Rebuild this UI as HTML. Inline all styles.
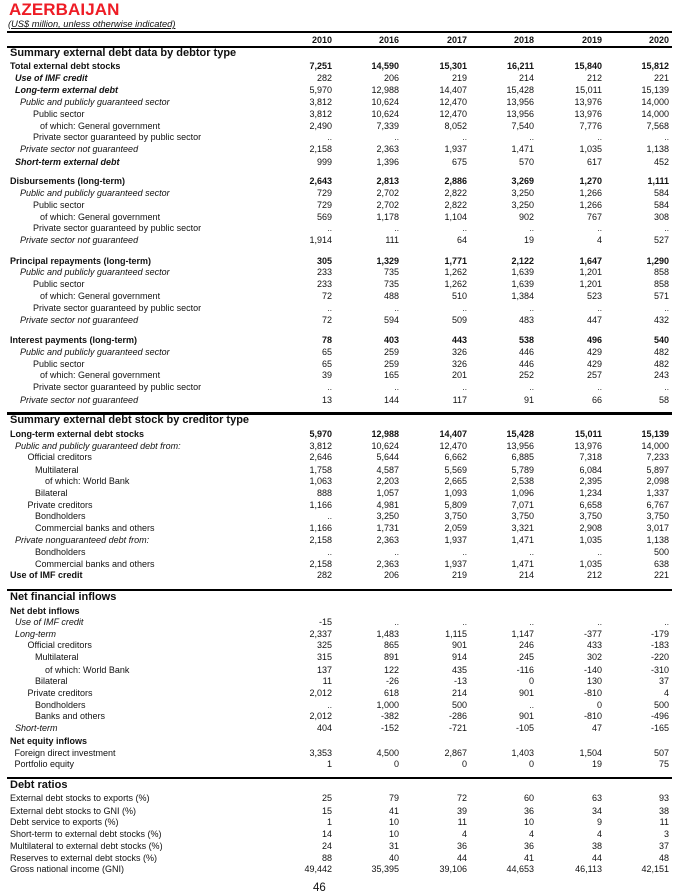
<!DOCTYPE html>
<html><head><meta charset="utf-8">
<style>
html,body{margin:0;padding:0;background:#fff;}
body{width:683px;height:891px;position:relative;overflow:hidden;font-family:"Liberation Sans",Arial,sans-serif;color:#111;}
.r{position:absolute;left:0;width:683px;height:11px;line-height:11px;font-size:9px;}
.r span{position:absolute;top:0;white-space:nowrap;}
.h{position:absolute;left:10px;font-size:11px;line-height:13px;font-weight:bold;white-space:nowrap;}
.c1{right:351px}.c2{right:284px}.c3{right:216px}.c4{right:149px}.c5{right:81px}.c6{right:14px}
.b{font-weight:bold}.i{font-style:italic}
.r span.d{font-size:8px;color:#000;}
.ln{position:absolute;left:7px;width:665px;background:#000;}
</style></head><body>
<div style="position:absolute;left:9px;top:0px;font-size:17px;line-height:20px;font-weight:bold;color:#ee1c25;letter-spacing:0.1px;">AZERBAIJAN</div>
<div style="position:absolute;left:8px;top:19px;font-size:9.3px;line-height:11px;font-style:italic;text-decoration:underline;">(US$ million, unless otherwise indicated)</div>
<div class="ln" style="top:31px;height:2px"></div>
<div class="r b" style="top:34.6px"><span class="c1">2010</span><span class="c2">2016</span><span class="c3">2017</span><span class="c4">2018</span><span class="c5">2019</span><span class="c6">2020</span></div>
<div class="ln" style="top:46px;height:2px"></div>
<div class="h" style="top:46.9px">Summary external debt data by debtor type</div>

<div class="r b" style="top:61.1px"><span style="left:10px">Total external debt stocks</span><span class="c1">7,251</span><span class="c2">14,590</span><span class="c3">15,301</span><span class="c4">16,211</span><span class="c5">15,840</span><span class="c6">15,812</span></div>
<div class="r" style="top:73.1px"><span class="b i" style="left:15px">Use of IMF credit</span><span class="c1">282</span><span class="c2">206</span><span class="c3">219</span><span class="c4">214</span><span class="c5">212</span><span class="c6">221</span></div>
<div class="r" style="top:85.1px"><span class="b i" style="left:15px">Long-term external debt</span><span class="c1">5,970</span><span class="c2">12,988</span><span class="c3">14,407</span><span class="c4">15,428</span><span class="c5">15,011</span><span class="c6">15,139</span></div>
<div class="r" style="top:97.1px"><span class="i" style="left:20px">Public and publicly guaranteed sector</span><span class="c1">3,812</span><span class="c2">10,624</span><span class="c3">12,470</span><span class="c4">13,956</span><span class="c5">13,976</span><span class="c6">14,000</span></div>
<div class="r" style="top:108.8px"><span style="left:33px">Public sector</span><span class="c1">3,812</span><span class="c2">10,624</span><span class="c3">12,470</span><span class="c4">13,956</span><span class="c5">13,976</span><span class="c6">14,000</span></div>
<div class="r" style="top:120.6px"><span style="left:40px">of which: General government</span><span class="c1">2,490</span><span class="c2">7,339</span><span class="c3">8,052</span><span class="c4">7,540</span><span class="c5">7,776</span><span class="c6">7,568</span></div>
<div class="r" style="top:132.3px"><span style="left:33px">Private sector guaranteed by public sector</span><span class="c1 d">..</span><span class="c2 d">..</span><span class="c3 d">..</span><span class="c4 d">..</span><span class="c5 d">..</span><span class="c6 d">..</span></div>
<div class="r" style="top:144.3px"><span class="i" style="left:20px">Private sector not guaranteed</span><span class="c1">2,158</span><span class="c2">2,363</span><span class="c3">1,937</span><span class="c4">1,471</span><span class="c5">1,035</span><span class="c6">1,138</span></div>
<div class="r" style="top:156.6px"><span class="b i" style="left:15px">Short-term external debt</span><span class="c1">999</span><span class="c2">1,396</span><span class="c3">675</span><span class="c4">570</span><span class="c5">617</span><span class="c6">452</span></div>

<div class="r b" style="top:176.1px"><span style="left:10px">Disbursements (long-term)</span><span class="c1">2,643</span><span class="c2">2,813</span><span class="c3">2,886</span><span class="c4">3,269</span><span class="c5">1,270</span><span class="c6">1,111</span></div>
<div class="r" style="top:188.1px"><span class="i" style="left:20px">Public and publicly guaranteed sector</span><span class="c1">729</span><span class="c2">2,702</span><span class="c3">2,822</span><span class="c4">3,250</span><span class="c5">1,266</span><span class="c6">584</span></div>
<div class="r" style="top:200.1px"><span style="left:33px">Public sector</span><span class="c1">729</span><span class="c2">2,702</span><span class="c3">2,822</span><span class="c4">3,250</span><span class="c5">1,266</span><span class="c6">584</span></div>
<div class="r" style="top:212.1px"><span style="left:40px">of which: General government</span><span class="c1">569</span><span class="c2">1,178</span><span class="c3">1,104</span><span class="c4">902</span><span class="c5">767</span><span class="c6">308</span></div>
<div class="r" style="top:223.3px"><span style="left:33px">Private sector guaranteed by public sector</span><span class="c1 d">..</span><span class="c2 d">..</span><span class="c3 d">..</span><span class="c4 d">..</span><span class="c5 d">..</span><span class="c6 d">..</span></div>
<div class="r" style="top:235.3px"><span class="i" style="left:20px">Private sector not guaranteed</span><span class="c1">1,914</span><span class="c2">111</span><span class="c3">64</span><span class="c4">19</span><span class="c5">4</span><span class="c6">527</span></div>

<div class="r b" style="top:255.6px"><span style="left:10px">Principal repayments (long-term)</span><span class="c1">305</span><span class="c2">1,329</span><span class="c3">1,771</span><span class="c4">2,122</span><span class="c5">1,647</span><span class="c6">1,290</span></div>
<div class="r" style="top:267.3px"><span class="i" style="left:20px">Public and publicly guaranteed sector</span><span class="c1">233</span><span class="c2">735</span><span class="c3">1,262</span><span class="c4">1,639</span><span class="c5">1,201</span><span class="c6">858</span></div>
<div class="r" style="top:278.9px"><span style="left:33px">Public sector</span><span class="c1">233</span><span class="c2">735</span><span class="c3">1,262</span><span class="c4">1,639</span><span class="c5">1,201</span><span class="c6">858</span></div>
<div class="r" style="top:291.1px"><span style="left:40px">of which: General government</span><span class="c1">72</span><span class="c2">488</span><span class="c3">510</span><span class="c4">1,384</span><span class="c5">523</span><span class="c6">571</span></div>
<div class="r" style="top:303.1px"><span style="left:33px">Private sector guaranteed by public sector</span><span class="c1 d">..</span><span class="c2 d">..</span><span class="c3 d">..</span><span class="c4 d">..</span><span class="c5 d">..</span><span class="c6 d">..</span></div>
<div class="r" style="top:315.1px"><span class="i" style="left:20px">Private sector not guaranteed</span><span class="c1">72</span><span class="c2">594</span><span class="c3">509</span><span class="c4">483</span><span class="c5">447</span><span class="c6">432</span></div>

<div class="r b" style="top:335.3px"><span style="left:10px">Interest payments (long-term)</span><span class="c1">78</span><span class="c2">403</span><span class="c3">443</span><span class="c4">538</span><span class="c5">496</span><span class="c6">540</span></div>
<div class="r" style="top:347.3px"><span class="i" style="left:20px">Public and publicly guaranteed sector</span><span class="c1">65</span><span class="c2">259</span><span class="c3">326</span><span class="c4">446</span><span class="c5">429</span><span class="c6">482</span></div>
<div class="r" style="top:358.6px"><span style="left:33px">Public sector</span><span class="c1">65</span><span class="c2">259</span><span class="c3">326</span><span class="c4">446</span><span class="c5">429</span><span class="c6">482</span></div>
<div class="r" style="top:370.3px"><span style="left:40px">of which: General government</span><span class="c1">39</span><span class="c2">165</span><span class="c3">201</span><span class="c4">252</span><span class="c5">257</span><span class="c6">243</span></div>
<div class="r" style="top:381.9px"><span style="left:33px">Private sector guaranteed by public sector</span><span class="c1 d">..</span><span class="c2 d">..</span><span class="c3 d">..</span><span class="c4 d">..</span><span class="c5 d">..</span><span class="c6 d">..</span></div>
<div class="r" style="top:394.6px"><span class="i" style="left:20px">Private sector not guaranteed</span><span class="c1">13</span><span class="c2">144</span><span class="c3">117</span><span class="c4">91</span><span class="c5">66</span><span class="c6">58</span></div>

<div class="ln" style="top:412px;height:2.5px"></div>
<div class="h" style="top:414.3px">Summary external debt stock by creditor type</div>
<div class="r b" style="top:428.6px"><span style="left:10px">Long-term external debt stocks</span><span class="c1">5,970</span><span class="c2">12,988</span><span class="c3">14,407</span><span class="c4">15,428</span><span class="c5">15,011</span><span class="c6">15,139</span></div>
<div class="r" style="top:440.6px"><span class="i" style="left:15px">Public and publicly guaranteed debt from:</span><span class="c1">3,812</span><span class="c2">10,624</span><span class="c3">12,470</span><span class="c4">13,956</span><span class="c5">13,976</span><span class="c6">14,000</span></div>
<div class="r" style="top:452.3px"><span style="left:27.5px">Official creditors</span><span class="c1">2,646</span><span class="c2">5,644</span><span class="c3">6,662</span><span class="c4">6,885</span><span class="c5">7,318</span><span class="c6">7,233</span></div>
<div class="r" style="top:464.6px"><span style="left:35px">Multilateral</span><span class="c1">1,758</span><span class="c2">4,587</span><span class="c3">5,569</span><span class="c4">5,789</span><span class="c5">6,084</span><span class="c6">5,897</span></div>
<div class="r" style="top:476.3px"><span style="left:45px">of which: World Bank</span><span class="c1">1,063</span><span class="c2">2,203</span><span class="c3">2,665</span><span class="c4">2,538</span><span class="c5">2,395</span><span class="c6">2,098</span></div>
<div class="r" style="top:488.3px"><span style="left:35px">Bilateral</span><span class="c1">888</span><span class="c2">1,057</span><span class="c3">1,093</span><span class="c4">1,096</span><span class="c5">1,234</span><span class="c6">1,337</span></div>
<div class="r" style="top:499.6px"><span style="left:27.5px">Private creditors</span><span class="c1">1,166</span><span class="c2">4,981</span><span class="c3">5,809</span><span class="c4">7,071</span><span class="c5">6,658</span><span class="c6">6,767</span></div>
<div class="r" style="top:511.3px"><span style="left:35px">Bondholders</span><span class="c1 d">..</span><span class="c2">3,250</span><span class="c3">3,750</span><span class="c4">3,750</span><span class="c5">3,750</span><span class="c6">3,750</span></div>
<div class="r" style="top:523.3px"><span style="left:35px">Commercial banks and others</span><span class="c1">1,166</span><span class="c2">1,731</span><span class="c3">2,059</span><span class="c4">3,321</span><span class="c5">2,908</span><span class="c6">3,017</span></div>
<div class="r" style="top:535.3px"><span class="i" style="left:15px">Private nonguaranteed debt from:</span><span class="c1">2,158</span><span class="c2">2,363</span><span class="c3">1,937</span><span class="c4">1,471</span><span class="c5">1,035</span><span class="c6">1,138</span></div>
<div class="r" style="top:547.3px"><span style="left:35px">Bondholders</span><span class="c1 d">..</span><span class="c2 d">..</span><span class="c3 d">..</span><span class="c4 d">..</span><span class="c5 d">..</span><span class="c6">500</span></div>
<div class="r" style="top:559.3px"><span style="left:35px">Commercial banks and others</span><span class="c1">2,158</span><span class="c2">2,363</span><span class="c3">1,937</span><span class="c4">1,471</span><span class="c5">1,035</span><span class="c6">638</span></div>
<div class="r" style="top:570.3px"><span class="b" style="left:10px">Use of IMF credit</span><span class="c1">282</span><span class="c2">206</span><span class="c3">219</span><span class="c4">214</span><span class="c5">212</span><span class="c6">221</span></div>

<div class="ln" style="top:589px;height:2px"></div>
<div class="h" style="top:590.6px">Net financial inflows</div>
<div class="r b" style="top:605.6px"><span style="left:10px">Net debt inflows</span></div>
<div class="r" style="top:617.3px"><span class="i" style="left:15px">Use of IMF credit</span><span class="c1">-15</span><span class="c2 d">..</span><span class="c3 d">..</span><span class="c4 d">..</span><span class="c5 d">..</span><span class="c6 d">..</span></div>
<div class="r" style="top:628.9px"><span class="i" style="left:15px">Long-term</span><span class="c1">2,337</span><span class="c2">1,483</span><span class="c3">1,115</span><span class="c4">1,147</span><span class="c5">-377</span><span class="c6">-179</span></div>
<div class="r" style="top:640.3px"><span style="left:27.5px">Official creditors</span><span class="c1">325</span><span class="c2">865</span><span class="c3">901</span><span class="c4">246</span><span class="c5">433</span><span class="c6">-183</span></div>
<div class="r" style="top:652.3px"><span style="left:35px">Multilateral</span><span class="c1">315</span><span class="c2">891</span><span class="c3">914</span><span class="c4">245</span><span class="c5">302</span><span class="c6">-220</span></div>
<div class="r" style="top:664.6px"><span style="left:45px">of which: World Bank</span><span class="c1">137</span><span class="c2">122</span><span class="c3">435</span><span class="c4">-116</span><span class="c5">-140</span><span class="c6">-310</span></div>
<div class="r" style="top:676.3px"><span style="left:35px">Bilateral</span><span class="c1">11</span><span class="c2">-26</span><span class="c3">-13</span><span class="c4">0</span><span class="c5">130</span><span class="c6">37</span></div>
<div class="r" style="top:688.3px"><span style="left:27.5px">Private creditors</span><span class="c1">2,012</span><span class="c2">618</span><span class="c3">214</span><span class="c4">901</span><span class="c5">-810</span><span class="c6">4</span></div>
<div class="r" style="top:700.3px"><span style="left:35px">Bondholders</span><span class="c1 d">..</span><span class="c2">1,000</span><span class="c3">500</span><span class="c4 d">..</span><span class="c5">0</span><span class="c6">500</span></div>
<div class="r" style="top:711.3px"><span style="left:35px">Banks and others</span><span class="c1">2,012</span><span class="c2">-382</span><span class="c3">-286</span><span class="c4">901</span><span class="c5">-810</span><span class="c6">-496</span></div>
<div class="r" style="top:723.3px"><span class="i" style="left:15px">Short-term</span><span class="c1">404</span><span class="c2">-152</span><span class="c3">-721</span><span class="c4">-105</span><span class="c5">47</span><span class="c6">-165</span></div>
<div class="r b" style="top:735.6px"><span style="left:10px">Net equity inflows</span></div>
<div class="r" style="top:747.6px"><span style="left:14.5px">Foreign direct investment</span><span class="c1">3,353</span><span class="c2">4,500</span><span class="c3">2,867</span><span class="c4">1,403</span><span class="c5">1,504</span><span class="c6">507</span></div>
<div class="r" style="top:758.9px"><span style="left:14.5px">Portfolio equity</span><span class="c1">1</span><span class="c2">0</span><span class="c3">0</span><span class="c4">0</span><span class="c5">19</span><span class="c6">75</span></div>

<div class="ln" style="top:777px;height:2px"></div>
<div class="h" style="top:779.1px">Debt ratios</div>
<div class="r" style="top:792.9px"><span style="left:10px">External debt stocks to exports (%)</span><span class="c1">25</span><span class="c2">79</span><span class="c3">72</span><span class="c4">60</span><span class="c5">63</span><span class="c6">93</span></div>
<div class="r" style="top:805.6px"><span style="left:10px">External debt stocks to GNI (%)</span><span class="c1">15</span><span class="c2">41</span><span class="c3">39</span><span class="c4">36</span><span class="c5">34</span><span class="c6">38</span></div>
<div class="r" style="top:817.3px"><span style="left:10px">Debt service to exports (%)</span><span class="c1">1</span><span class="c2">10</span><span class="c3">11</span><span class="c4">10</span><span class="c5">9</span><span class="c6">11</span></div>
<div class="r" style="top:828.9px"><span style="left:10px">Short-term to external debt stocks (%)</span><span class="c1">14</span><span class="c2">10</span><span class="c3">4</span><span class="c4">4</span><span class="c5">4</span><span class="c6">3</span></div>
<div class="r" style="top:841.3px"><span style="left:10px">Multilateral to external debt stocks (%)</span><span class="c1">24</span><span class="c2">31</span><span class="c3">36</span><span class="c4">36</span><span class="c5">38</span><span class="c6">37</span></div>
<div class="r" style="top:852.9px"><span style="left:10px">Reserves to external debt stocks (%)</span><span class="c1">88</span><span class="c2">40</span><span class="c3">44</span><span class="c4">41</span><span class="c5">44</span><span class="c6">48</span></div>
<div class="r" style="top:863.9px"><span style="left:10px">Gross national income (GNI)</span><span class="c1">49,442</span><span class="c2">35,395</span><span class="c3">39,106</span><span class="c4">44,653</span><span class="c5">46,113</span><span class="c6">42,151</span></div>

<div style="position:absolute;left:313px;top:881.5px;font-size:11.5px;line-height:13px;">46</div>
</body></html>
